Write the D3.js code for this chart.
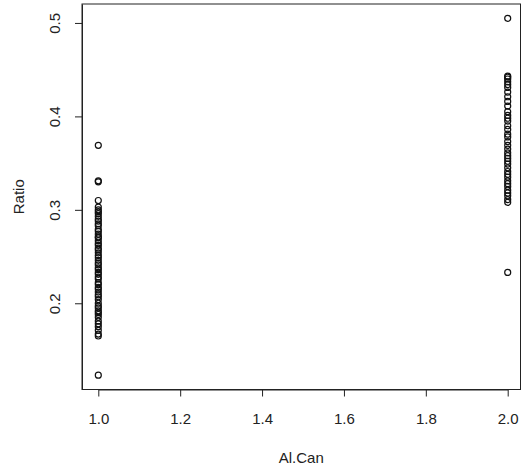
<!DOCTYPE html>
<html>
<head>
<meta charset="utf-8">
<script src="https://cdnjs.cloudflare.com/ajax/libs/d3/7.8.5/d3.min.js"></script>
<style>
body { margin: 0; background: #fff; }
text { font-family: "Liberation Sans", Arial, sans-serif; fill: #222; }
</style>
</head>
<body>
<script>
// Al.Can groups and Ratio values
var group1 = [0.369, 0.331, 0.330, 0.310, 0.303, 0.300, 0.298, 0.296, 0.293, 0.290, 0.288,
  0.285, 0.283, 0.279, 0.277, 0.274, 0.271, 0.270, 0.267, 0.264, 0.262, 0.259, 0.257,
  0.254, 0.251, 0.249, 0.246, 0.243, 0.241, 0.238, 0.236, 0.233, 0.231, 0.228, 0.226,
  0.222, 0.220, 0.217, 0.215, 0.212, 0.209, 0.207, 0.204, 0.200, 0.197, 0.195, 0.192,
  0.190, 0.188, 0.185, 0.181, 0.178, 0.175, 0.171, 0.167, 0.165, 0.123];
var group2 = [0.505, 0.443, 0.442, 0.440, 0.437, 0.434, 0.431, 0.426, 0.421, 0.416,
  0.411, 0.405, 0.401, 0.398, 0.395, 0.390, 0.386, 0.381, 0.378, 0.373, 0.369, 0.365,
  0.361, 0.358, 0.355, 0.352, 0.349, 0.345, 0.341, 0.338, 0.335, 0.331, 0.328, 0.325,
  0.321, 0.318, 0.315, 0.311, 0.308, 0.233];
var xTicks = [1.0, 1.2, 1.4, 1.6, 1.8, 2.0];
var yTicks = [0.2, 0.3, 0.4, 0.5];

var points = group1.map(function(v){ return {x: 1, y: v}; })
  .concat(group2.map(function(v){ return {x: 2, y: v}; }));

var W = 523, H = 472;
var box = {left: 82, right: 520.5, top: 4, bottom: 389.5};

var svg = d3.select("body").append("svg")
  .attr("width", W).attr("height", H);

// R pads range by 4% on each side
var yMin = d3.min(points, function(d){ return d.y; }),
    yMax = d3.max(points, function(d){ return d.y; }),
    pad = (yMax - yMin) * 0.04;

var x = d3.scaleLinear().domain([1, 2]).range([98.3, 507.7]);
var y = d3.scaleLinear().domain([yMin - pad, yMax + pad]).range([box.bottom, box.top]);

var xAxis = svg.append("g")
  .attr("transform", "translate(0," + box.bottom + ")")
  .call(d3.axisBottom(x).tickValues(xTicks).tickFormat(d3.format(".1f")).tickSizeInner(7).tickSizeOuter(0).tickPadding(17));
var yAxis = svg.append("g")
  .attr("transform", "translate(" + box.left + ",0)")
  .call(d3.axisLeft(y).tickValues(yTicks).tickFormat(d3.format(".1f")).tickSizeInner(7).tickSizeOuter(0));

[xAxis, yAxis].forEach(function(g){
  g.select(".domain").attr("stroke", "#222");
  g.selectAll(".tick line").attr("stroke", "#222");
  g.selectAll(".tick text").style("font-size", "15px").attr("fill", "#222");
});

// rotated y tick labels like R's las=0
yAxis.selectAll(".tick text")
  .attr("text-anchor", "middle")
  .attr("x", 0).attr("dy", 0)
  .attr("transform", "translate(-28,0) rotate(-90)")
  .attr("dominant-baseline", "central");

svg.append("rect")
  .attr("x", box.left).attr("y", box.top)
  .attr("width", box.right - box.left).attr("height", box.bottom - box.top)
  .attr("fill", "none").attr("stroke", "#222").attr("stroke-width", 1);

svg.append("g").selectAll("circle")
  .data(points)
  .enter().append("circle")
  .attr("cx", function(d){ return x(d.x); })
  .attr("cy", function(d){ return y(d.y); })
  .attr("r", 3)
  .attr("fill", "none")
  .attr("stroke", "#111")
  .attr("stroke-width", 1.2);

svg.append("text")
  .attr("x", (box.left + box.right) / 2).attr("y", 457)
  .attr("text-anchor", "middle").attr("dominant-baseline", "central")
  .style("font-size", "15px")
  .text("Al.Can");

svg.append("text")
  .attr("transform", "translate(18," + ((box.top + box.bottom) / 2) + ") rotate(-90)")
  .attr("text-anchor", "middle").attr("dominant-baseline", "central")
  .style("font-size", "15px")
  .text("Ratio");
</script>
</body>
</html>
